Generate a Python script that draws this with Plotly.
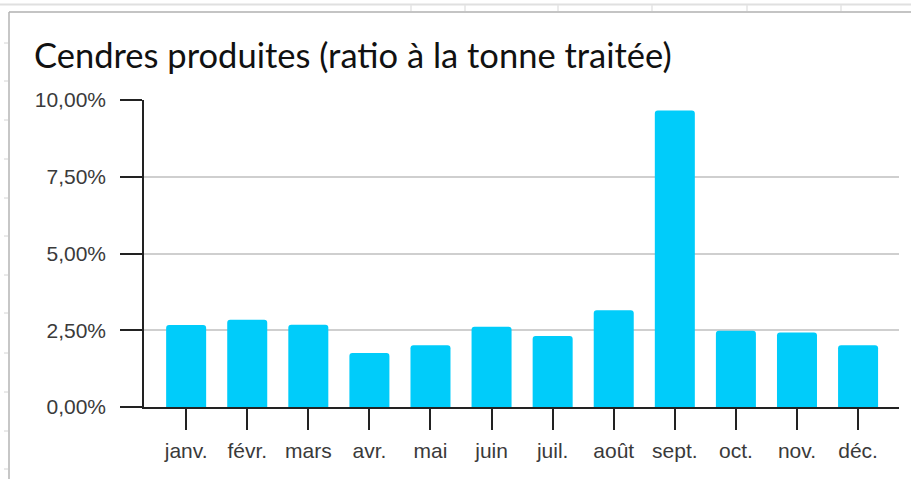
import plotly.graph_objects as go

# Monthly ash output, as a percentage of treated tonnage
months = ["janv.", "févr.", "mars", "avr.", "mai", "juin",
          "juil.", "août", "sept.", "oct.", "nov.", "déc."]
ash_ratio_pct = [2.67, 2.84, 2.68, 1.76, 2.01, 2.61,
                 2.31, 3.15, 9.66, 2.48, 2.43, 2.01]

y_tick_values = [0, 2.5, 5, 7.5, 10]
y_tick_labels = ["0,00%", "2,50%", "5,00%", "7,50%", "10,00%"]

title_text = "Cendres produites (ratio à la tonne traitée)"

W, H = 911, 479
ML, MR, MT, MB = 144, 12, 100, 72
PW, PH = W - ML - MR, H - MT - MB


def px(x):
    return (x - ML) / PW


def py(y):
    return (H - MB - y) / PH


fig = go.Figure(
    go.Bar(
        x=months,
        y=ash_ratio_pct,
        width=0.655,
        marker=dict(color="#00CCFA", line=dict(width=0), cornerradius=3),
        hoverinfo="x+y",
    )
)

# Spreadsheet frame around the chart object
shapes = []
line_soft = dict(color="#e0e0e0", width=2)
shapes.append(dict(type="line", xref="paper", yref="paper",
                   x0=px(0), x1=px(W), y0=py(4.5), y1=py(4.5), line=line_soft))
for sx in [411, 465, 558, 652, 747, 841]:
    shapes.append(dict(type="line", xref="paper", yref="paper",
                       x0=px(sx), x1=px(sx), y0=py(5), y1=py(11),
                       line=dict(color="#e4e4e4", width=1.5)))
shapes.append(dict(type="line", xref="paper", yref="paper",
                   x0=px(9), x1=px(W), y0=py(12), y1=py(12),
                   line=dict(color="#b0b0b0", width=1.5)))
shapes.append(dict(type="line", xref="paper", yref="paper",
                   x0=px(9), x1=px(9), y0=py(12), y1=py(H),
                   line=dict(color="#b4b4b4", width=1.5)))
for ry in [43, 81, 120, 159, 198, 236, 275, 313, 353, 392, 431, 469]:
    shapes.append(dict(type="line", xref="paper", yref="paper",
                       x0=px(4), x1=px(8), y0=py(ry), y1=py(ry),
                       line=dict(color="#d4d4d4", width=1)))

fig.update_layout(
    width=W,
    height=H,
    margin=dict(l=ML, r=MR, t=MT, b=MB, pad=0),
    paper_bgcolor="white",
    plot_bgcolor="white",
    showlegend=False,
    bargap=0.345,
    shapes=shapes,
    title=dict(
        text=title_text,
        font=dict(family="Lato", size=34.5, color="#111111"),
        xref="container", yref="container",
        x=34 / W, xanchor="left",
        y=1 - 56 / H, yanchor="middle",
    ),
    xaxis=dict(
        type="category",
        range=[-0.69, 11.67],
        showgrid=False,
        showline=True,
        linecolor="#222222",
        linewidth=1.6,
        ticks="outside",
        ticklen=21,
        tickwidth=1.6,
        tickcolor="#222222",
        tickfont=dict(family="Liberation Sans", size=21, color="#3a3a3a"),
        ticklabelstandoff=3,
        fixedrange=True,
    ),
    yaxis=dict(
        range=[0, 10],
        tickvals=y_tick_values,
        ticktext=y_tick_labels,
        showgrid=True,
        gridcolor="#cfcfcf",
        gridwidth=1.5,
        zeroline=False,
        showline=True,
        linecolor="#222222",
        linewidth=1.6,
        ticks="outside",
        ticklen=22,
        tickwidth=1.6,
        tickcolor="#222222",
        tickfont=dict(family="Liberation Sans", size=21, color="#3a3a3a"),
        ticklabelstandoff=10,
        fixedrange=True,
    ),
)

fig.write_html("out.html")
